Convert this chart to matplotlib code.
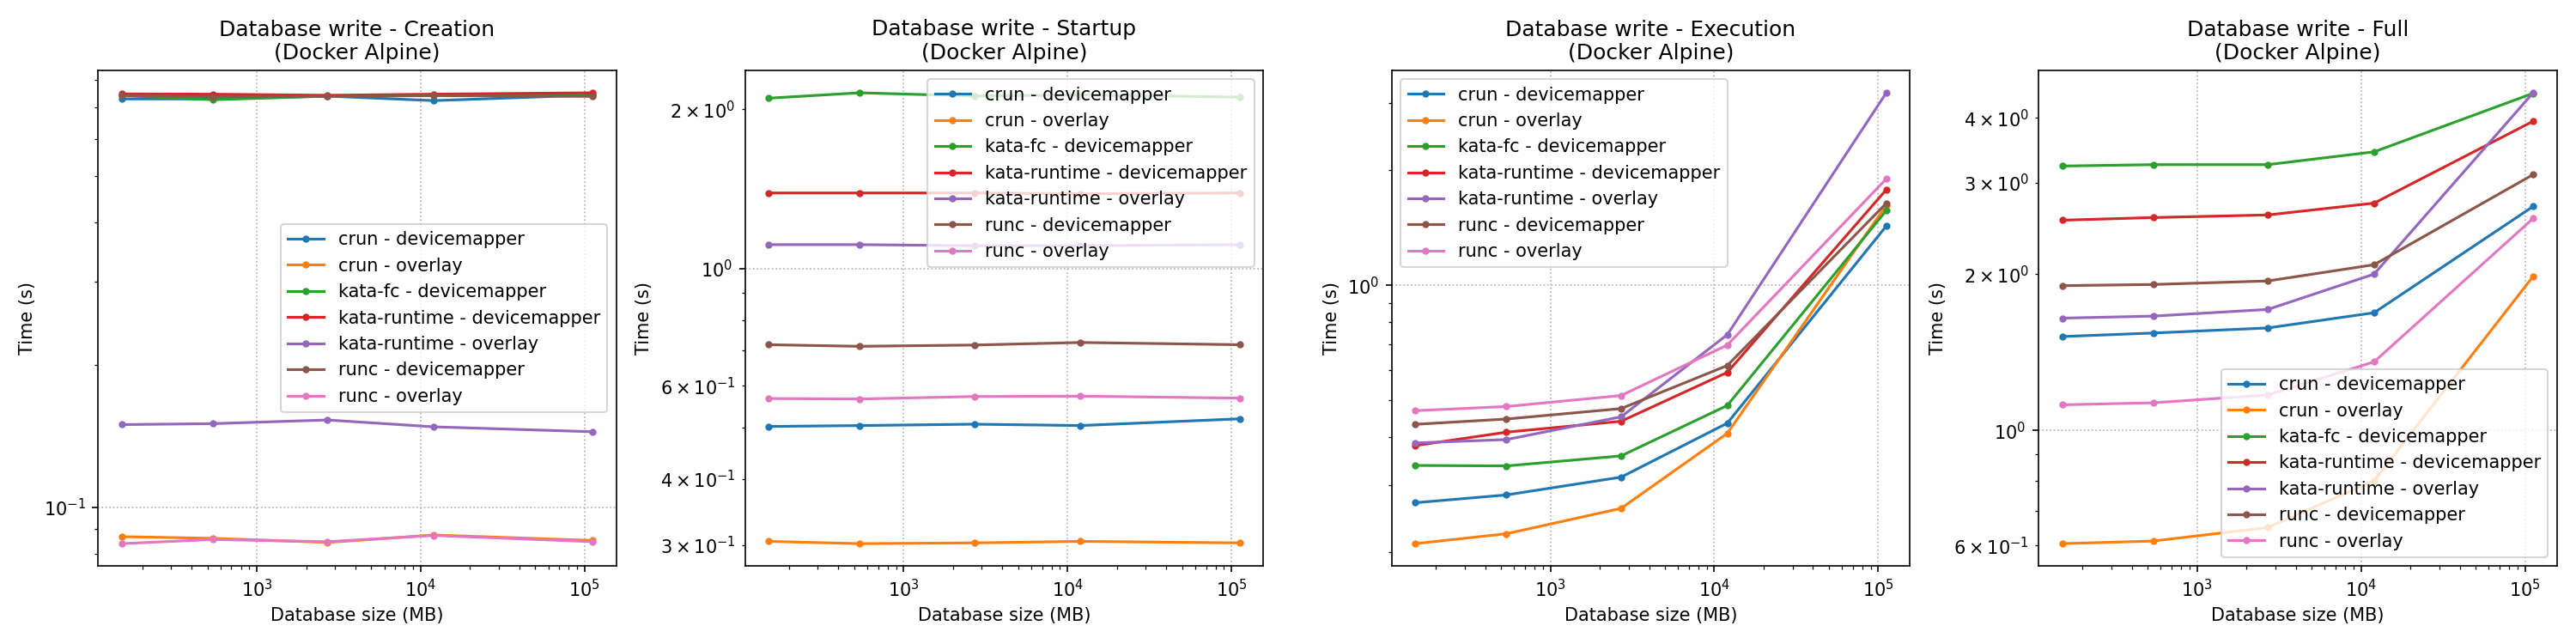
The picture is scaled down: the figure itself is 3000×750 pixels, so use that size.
import matplotlib
matplotlib.use("Agg")
import matplotlib.pyplot as plt

sizes = [150, 540, 2700, 12000, 112000]
labels = ["crun - devicemapper", "crun - overlay", "kata-fc - devicemapper",
          "kata-runtime - devicemapper", "kata-runtime - overlay",
          "runc - devicemapper", "runc - overlay"]

creation = [
    [0.728, 0.728, 0.738, 0.722, 0.742],
    [0.0868, 0.0861, 0.0844, 0.0875, 0.0852],
    [0.740, 0.725, 0.738, 0.740, 0.744],
    [0.746, 0.745, 0.741, 0.745, 0.750],
    [0.1496, 0.1503, 0.153, 0.148, 0.1445],
    [0.740, 0.736, 0.737, 0.740, 0.737],
    [0.0839, 0.0856, 0.0847, 0.0873, 0.0847],
]
startup = [
    [0.503, 0.505, 0.508, 0.505, 0.520],
    [0.305, 0.302, 0.303, 0.305, 0.303],
    [2.10, 2.15, 2.12, 2.13, 2.11],
    [1.39, 1.39, 1.39, 1.385, 1.39],
    [1.11, 1.11, 1.105, 1.105, 1.11],
    [0.718, 0.713, 0.717, 0.725, 0.718],
    [0.568, 0.567, 0.573, 0.574, 0.569],
]
execution = [
    [0.270, 0.283, 0.315, 0.436, 1.43],
    [0.211, 0.224, 0.261, 0.410, 1.62],
    [0.338, 0.337, 0.358, 0.485, 1.57],
    [0.381, 0.413, 0.441, 0.592, 1.78],
    [0.387, 0.395, 0.453, 0.743, 3.19],
    [0.433, 0.447, 0.476, 0.617, 1.64],
    [0.470, 0.482, 0.515, 0.698, 1.90],
]
full = [
    [1.516, 1.54, 1.575, 1.685, 2.70],
    [0.605, 0.612, 0.65, 0.80, 1.98],
    [3.23, 3.25, 3.25, 3.44, 4.46],
    [2.54, 2.57, 2.60, 2.74, 3.94],
    [1.645, 1.66, 1.71, 2.0, 4.47],
    [1.90, 1.91, 1.94, 2.085, 3.11],
    [1.12, 1.13, 1.17, 1.355, 2.56],
]

panels = [("Creation", creation, "center right"),
          ("Startup", startup, "upper right"),
          ("Execution", execution, "upper left"),
          ("Full", full, "lower right")]

fig, axes = plt.subplots(1, 4, figsize=(20, 5), dpi=150)
for ax, (phase, data, loc) in zip(axes, panels):
    for lab, vals in zip(labels, data):
        ax.plot(sizes, vals, marker="o", markersize=3, label=lab)
    ax.set_xscale("log")
    ax.set_yscale("log")
    ax.set_title(f"Database write - {phase}\n(Docker Alpine)")
    ax.set_xlabel("Database size (MB)")
    ax.set_ylabel("Time (s)")
    ax.grid(True, linestyle=":")
    ax.legend(loc=loc)

plt.tight_layout()
plt.savefig("out.png")
